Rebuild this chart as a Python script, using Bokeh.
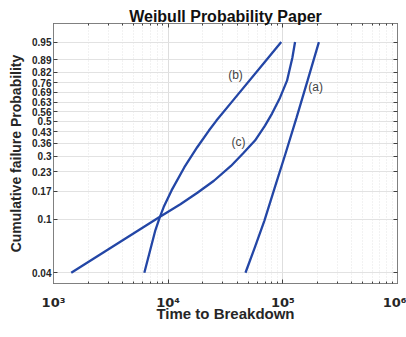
import numpy as np
from bokeh.plotting import figure
from bokeh.models import Range1d, FixedTicker, LinearAxis, LogAxis, Label, ColumnDataSource
from bokeh.embed import file_html
from bokeh.resources import INLINE

# ---- data (time, cumulative failure probability) ----
time_a = [47220, 56590, 69220, 84620, 105580, 131700, 164300, 206300]
prob_a = [0.04, 0.0623, 0.1026, 0.1782, 0.3134, 0.5200, 0.7677, 0.95]

time_b = [6197, 7730, 8431, 9136, 10708, 13850, 17920, 22670, 26360, 36660, 71040, 96830]
prob_b = [0.04, 0.0860, 0.1076, 0.1294, 0.1723, 0.2528, 0.3447, 0.4381, 0.5005, 0.6345,
          0.8795, 0.95]

time_c = [1428, 8213, 12780, 17990, 25070, 35280, 44920, 57180, 69910, 80470, 94520,
          108800, 121100, 127800]
prob_c = [0.04, 0.1076, 0.1361, 0.1657, 0.2026, 0.2577, 0.3134, 0.3804, 0.4688, 0.5464,
          0.6550, 0.7677, 0.8934, 0.95]

curve_names = ["(a)", "(b)", "(c)"]

y_tick_probs = [0.04, 0.105, 0.17, 0.235, 0.30, 0.365, 0.43, 0.495, 0.56, 0.625,
                0.69, 0.755, 0.82, 0.885, 0.95]
y_tick_labels = ["0.04", "0.1", "0.17", "0.23", "0.3", "0.36", "0.43", "0.5", "0.56",
                 "0.63", "0.69", "0.76", "0.82", "0.89", "0.95"]
x_ticks = [1e3, 1e4, 1e5, 1e6]
x_tick_labels = ["10\u00b3", "10\u2074", "10\u2075", "10\u2076"]


def weib(F):
    F = np.asarray(F, dtype=float)
    return np.log(-np.log(1.0 - F))


LINE = "#2346a6"
TXT = "#262626"
FONT = "Liberation Sans"

p = figure(width=406, height=337, x_axis_type="log",
           x_range=Range1d(1e3, 1e6), y_range=Range1d(-3.399, 1.443),
           output_backend="svg", toolbar_location=None,
           title="Weibull Probability Paper",
           min_border_left=53, min_border_right=9, min_border_top=23, min_border_bottom=54)

p.title.text_font = FONT
p.title.text_font_size = "16px"
p.title.text_font_style = "bold"
p.title.text_color = "#111111"
p.title.align = "center"
p.title.standoff = -2
p.title.offset = 0

p.outline_line_color = "#808080"
p.outline_line_width = 1
p.background_fill_color = "white"
p.border_fill_color = "white"

# ticks
yt = [float(v) for v in weib(y_tick_probs)]
minor_x = []
for d in [1e3, 1e4, 1e5]:
    minor_x += [k * d for k in range(2, 10)]
xticker = FixedTicker(ticks=x_ticks, minor_ticks=minor_x)
yticker = FixedTicker(ticks=yt, minor_ticks=[])

xa = p.xaxis[0]
xa.ticker = xticker
xa.major_label_overrides = {float(t): l for t, l in zip(x_ticks, x_tick_labels)}
ya = p.yaxis[0]
ya.ticker = yticker
ya.major_label_overrides = {t: l for t, l in zip(yt, y_tick_labels)}

for ax in (xa, ya):
    ax.axis_line_color = "#808080"
    ax.major_tick_line_color = "#404040"
    ax.minor_tick_line_color = "#404040"
    ax.major_tick_in = 4
    ax.major_tick_out = 0
    ax.minor_tick_in = 2
    ax.minor_tick_out = 0
    ax.major_label_text_font = FONT
    ax.major_label_text_font_style = "bold"
    ax.major_label_text_color = TXT
    ax.axis_label_text_font = FONT
    ax.axis_label_text_font_style = "bold"
    ax.axis_label_text_color = TXT

xa.major_label_text_font = "DejaVu Sans"
xa.major_label_text_font_size = "13px"
xa.major_label_standoff = 11
xa.axis_label = "Time to Breakdown"
xa.axis_label_text_font_size = "15px"
xa.axis_label_standoff = -8
ya.major_label_text_font_size = "10px"
ya.major_label_standoff = 2
ya.axis_label = "Cumulative failure Probability"
ya.axis_label_text_font_size = "14px"
ya.axis_label_standoff = 5

# mirrored axes (box)
ra = LinearAxis(ticker=yticker, major_label_text_font_size="1px", major_label_text_alpha=0,
                major_tick_in=4, major_tick_out=0, axis_line_color="#808080",
                major_label_standoff=0, major_tick_line_color="#404040")
p.add_layout(ra, "right")
ta = LogAxis(ticker=xticker, major_label_text_font_size="1px", major_label_text_alpha=0,
             major_tick_in=4, major_tick_out=0, minor_tick_in=2, minor_tick_out=0,
             axis_line_color="#808080", major_label_standoff=0,
             major_tick_line_color="#404040", minor_tick_line_color="#404040")
p.add_layout(ta, "above")

# grids
p.xgrid.grid_line_color = "#dedede"
p.xgrid.minor_grid_line_color = "#e4e4e4"
p.xgrid.minor_grid_line_dash = "1 2"
p.ygrid.grid_line_color = "#e2e2e2"
p.ygrid.minor_grid_line_color = None

for t, f in [(time_a, prob_a), (time_b, prob_b), (time_c, prob_c)]:
    src = ColumnDataSource(dict(x=t, y=weib(f)))
    p.line("x", "y", source=src, line_color=LINE, line_width=2.3)

# curve labels
label_pos = [(193000, 0.729), (38650, 0.804), (41000, 0.372)]
for name, (lx, lf) in zip(curve_names, label_pos):
    p.add_layout(Label(x=lx, y=float(weib(lf)), text=name, text_align="center",
                       text_baseline="middle", text_font=FONT, text_font_size="12px",
                       text_color="#444444"))

open("out.html", "w").write(file_html(p, INLINE))
